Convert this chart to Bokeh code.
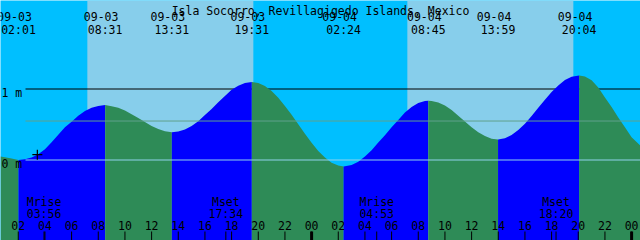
from bokeh.plotting import figure
from bokeh.models import ColumnDataSource, LabelSet, Label, Range1d
from bokeh.core.properties import value
from bokeh.embed import file_html
from bokeh.resources import INLINE

# ---------------- data ----------------
title_text = "Isla Socorro, Revillagigedo Islands, Mexico"

# hours counted from 09-03 00:00
x_start, x_end = 0.667, 48.667

event_dates = ["09-03", "09-03", "09-03", "09-03", "09-04", "09-04", "09-04", "09-04"]
event_times = ["02:01", "08:31", "13:31", "19:31", "02:24", "08:45", "13:59", "20:04"]
event_hours = [2.017, 8.517, 13.517, 19.517, 26.4, 32.75, 37.983, 44.067]
event_heights = [0.0, 0.775, 0.39, 1.10, -0.09, 0.835, 0.29, 1.19]
event_kinds = ["L", "H", "L", "H", "L", "H", "L", "H"]

# tide height (m)
reading_hours = [0.667, 1, 1.5, 2.5, 3, 3.5, 4, 4.5, 5, 5.5, 6, 6.5, 7, 7.5, 8,
                 9, 9.5, 10, 10.5, 11, 11.5, 12, 12.5, 13,
                 14, 14.5, 15, 15.5, 16, 16.5, 17, 17.5, 18, 18.5, 19,
                 20, 20.5, 21, 21.5, 22, 22.5, 23, 23.5, 24, 24.5, 25, 25.5, 26,
                 27, 27.5, 28, 28.5, 29, 29.5, 30, 30.5, 31, 31.5, 32, 32.5,
                 33, 33.5, 34, 34.5, 35, 35.5, 36, 36.5, 37, 37.5,
                 38.5, 39, 39.5, 40, 40.5, 41, 41.5, 42, 42.5, 43, 43.5,
                 44.5, 45, 45.5, 46, 46.5, 47, 47.5, 48, 48.667]
reading_heights = [0.05, 0.04, 0.02, 0.01, 0.035, 0.08, 0.15, 0.25, 0.355, 0.46, 0.54, 0.625, 0.69, 0.735, 0.762,
                   0.757, 0.735, 0.696, 0.645, 0.59, 0.535, 0.48, 0.435, 0.405,
                   0.40, 0.43, 0.48, 0.545, 0.635, 0.72, 0.815, 0.9, 0.99, 1.047, 1.086,
                   1.086, 1.042, 0.972, 0.878, 0.762, 0.636, 0.502, 0.37, 0.242, 0.128, 0.034, -0.038, -0.076,
                   -0.07, -0.025, 0.048, 0.138, 0.245, 0.35, 0.46, 0.565, 0.67, 0.747, 0.802, 0.83,
                   0.832, 0.81, 0.768, 0.703, 0.623, 0.541, 0.461, 0.391, 0.337, 0.301,
                   0.306, 0.352, 0.421, 0.512, 0.62, 0.736, 0.85, 0.958, 1.05, 1.126, 1.171,
                   1.175, 1.125, 1.02, 0.88, 0.745, 0.60, 0.46, 0.32, 0.20]

sunrise_hours = [7.18, 31.18]
sunset_hours = [19.63, 43.63]

moon_names = ["Mrise", "Mset", "Mrise", "Mset"]
moon_times = ["03:56", "17:34", "04:53", "18:20"]
moon_hours = [3.933, 17.567, 28.883, 42.333]

tick_hours = [2, 4, 6, 8, 10, 12, 14, 16, 18, 20, 22, 24,
              26, 28, 30, 32, 34, 36, 38, 40, 42, 44, 46, 48]
tick_labels = ["02", "04", "06", "08", "10", "12", "14", "16", "18", "20", "22", "00",
               "02", "04", "06", "08", "10", "12", "14", "16", "18", "20", "22", "00"]
midnight_hours = [24, 48]

level_values = [1.0, 0.0]
level_labels = ["1 m", "0 m"]
datum_level = 0.0
msl_level = 0.549

now_hours = [3.43]
now_heights = [0.075]

# ---------------- styling / geometry ----------------
W, H = 640, 240
PX_PER_M = 71.0
y_hi = 159.5 / PX_PER_M
y_lo = y_hi - H / PX_PER_M
px_per_hour = W / (x_end - x_start)


def ypx(px):
    return y_hi - px / PX_PER_M


def xpx(px):
    return x_start + px / px_per_hour


NIGHT = "#00BFFF"
DAY = "#87CEEB"
RISE = "#0000FF"
FALL = "#2E8B57"
FONT = value("DejaVu Sans Mono")
FS = value("11.5px")

p = figure(width=W, height=H, output_backend="svg", toolbar_location=None,
           x_range=Range1d(x_start, x_end), y_range=Range1d(y_lo, y_hi),
           min_border=0, min_border_left=0, min_border_right=0,
           min_border_top=0, min_border_bottom=0)
p.axis.visible = False
p.grid.visible = False
p.outline_line_color = None
p.background_fill_color = NIGHT
p.border_fill_color = NIGHT

# daylight
p.quad(left=sunrise_hours, right=sunset_hours, bottom=y_lo, top=y_hi,
       fill_color=DAY, line_color=None)

# 1 m grid line (behind water)
line_x0 = xpx(25)
p.segment(x0=[line_x0], y0=[1.0], x1=[x_end], y1=[1.0], line_color="black", line_width=1)

# water
pts = sorted(zip(reading_hours + event_hours, reading_heights + event_heights))
bounds = [x_start] + event_hours + [x_end]
for i in range(len(bounds) - 1):
    a, b = bounds[i], bounds[i + 1]
    seg = [(h, v) for h, v in pts if a <= h <= b]
    if i < len(event_kinds):
        color = RISE if event_kinds[i] == "H" else FALL
    else:
        color = FALL
    xs = [s[0] for s in seg]
    ys = [s[1] for s in seg]
    p.varea(x=xs, y1=[y_lo] * len(xs), y2=ys, fill_color=color)

# msl and datum lines
p.segment(x0=[line_x0], y0=[msl_level], x1=[x_end], y1=[msl_level], line_color="#5FA08C", line_width=1)
p.segment(x0=[line_x0], y0=[datum_level], x1=[x_end], y1=[datum_level], line_color="#90D2EC", line_width=1)

# level labels
for v, t in zip(level_values, level_labels):
    p.add_layout(Label(x=xpx(1), y=v, y_offset=-4, text=t, text_font="DejaVu Sans Mono",
                       text_font_size="11.5px", text_color="black",
                       text_align="left", text_baseline="alphabetic"))

# now marker
p.scatter(x=now_hours, y=now_heights, marker="cross", size=10, line_color="black", line_width=1.2)

# title
p.add_layout(Label(x=(x_start + x_end) / 2, y=ypx(10), text=title_text, text_font="DejaVu Sans Mono",
                   text_font_size="11.5px", text_color="black", text_align="center",
                   text_baseline="alphabetic"))

# tide event labels
ev_src = ColumnDataSource(dict(x=event_hours, d=event_dates, t=event_times,
                               yd=[ypx(20.5)] * len(event_hours),
                               yt=[ypx(33.2)] * len(event_hours)))
p.add_layout(LabelSet(x="x", y="yd", text="d", source=ev_src, x_offset=-4,
                      text_font=FONT, text_font_size=FS, text_color="black",
                      text_align="center", text_baseline="alphabetic"))
p.add_layout(LabelSet(x="x", y="yt", text="t", source=ev_src,
                      text_font=FONT, text_font_size=FS, text_color="black",
                      text_align="center", text_baseline="alphabetic"))

# moon labels
mn_src = ColumnDataSource(dict(x=moon_hours, n=moon_names, t=moon_times,
                               yn=[ypx(205.5)] * len(moon_hours),
                               yt=[ypx(217.8)] * len(moon_hours)))
p.add_layout(LabelSet(x="x", y="yn", text="n", source=mn_src,
                      text_font=FONT, text_font_size=FS, text_color="black",
                      text_align="center", text_baseline="alphabetic"))
p.add_layout(LabelSet(x="x", y="yt", text="t", source=mn_src,
                      text_font=FONT, text_font_size=FS, text_color="black",
                      text_align="center", text_baseline="alphabetic"))

# bottom time axis
tick_top = ypx(231)
p.segment(x0=tick_hours, y0=[y_lo] * len(tick_hours), x1=tick_hours,
          y1=[tick_top] * len(tick_hours), line_color="black", line_width=1)
p.segment(x0=moon_hours, y0=[y_lo] * len(moon_hours), x1=moon_hours,
          y1=[tick_top] * len(moon_hours), line_color="black", line_width=1)
p.segment(x0=midnight_hours, y0=[y_lo] * len(midnight_hours), x1=midnight_hours,
          y1=[tick_top] * len(midnight_hours), line_color="black", line_width=3)
tk_src = ColumnDataSource(dict(x=tick_hours, t=tick_labels, y=[ypx(229.3)] * len(tick_hours)))
p.add_layout(LabelSet(x="x", y="y", text="t", source=tk_src,
                      text_font=FONT, text_font_size=FS, text_color="black",
                      text_align="center", text_baseline="alphabetic"))

open("out.html", "w").write(file_html(p, INLINE))
